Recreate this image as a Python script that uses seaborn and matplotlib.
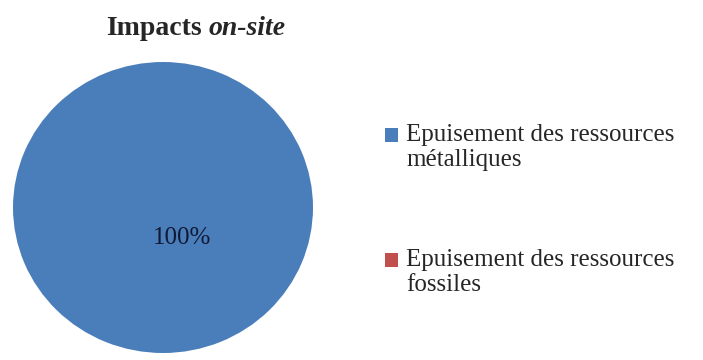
import matplotlib
matplotlib.use("Agg")
import matplotlib.pyplot as plt
import matplotlib.patches as mpatches
from matplotlib.legend_handler import HandlerPatch
import seaborn as sns

# data
categories = ["Epuisement des ressources\nmétalliques",
              "Epuisement des ressources\nfossiles"]
shares = [100, 0]
colors = ["#4A7EBB", "#C0504D"]

sns.set_style("white")
plt.rcParams["font.family"] = ["Liberation Serif", "DejaVu Serif"]

fig = plt.figure(figsize=(7.03, 3.6), dpi=100)
# pie area in pixels: x 13..313, y 62..353
ax = fig.add_axes([13 / 703, 7 / 360, 300 / 703, 291 / 360])

def pct_label(p):
    return f"{p:.0f}%" if p > 0 else ""

wedges, texts, autotexts = ax.pie(
    shares, colors=colors, startangle=121, counterclock=False,
    autopct=pct_label, pctdistance=0.245,
    wedgeprops={"linewidth": 0},
    textprops={"fontsize": 18, "color": "#111833"},
)
ax.set_aspect("auto")
ax.set_xlim(-1, 1)
ax.set_ylim(-1, 1)
ax.axis("off")

# title: bold + bold italic part
fig.text(202 / 703, (360 - 35) / 360, "Impacts", ha="right", va="baseline",
         fontsize=20, fontweight="bold")
fig.text(209 / 703, (360 - 35) / 360, "on-site", ha="left", va="baseline",
         fontsize=20, fontweight="bold", fontstyle="italic")


# legend squares sit next to the first line of each label
def top_square(legend, orig_handle, xdescent, ydescent, width, height, fontsize):
    return mpatches.Rectangle((-xdescent, -ydescent + 8.8), width, height)


fig.legend(wedges, categories, loc="upper left",
           bbox_to_anchor=(385 / 703, (360 - 124) / 360),
           frameon=False, fontsize=18, borderpad=0, borderaxespad=0,
           handlelength=0.52, handleheight=0.48, handletextpad=0.33,
           labelspacing=3.1,
           handler_map={mpatches.Wedge: HandlerPatch(patch_func=top_square)})

fig.savefig("out.png", dpi=100)
